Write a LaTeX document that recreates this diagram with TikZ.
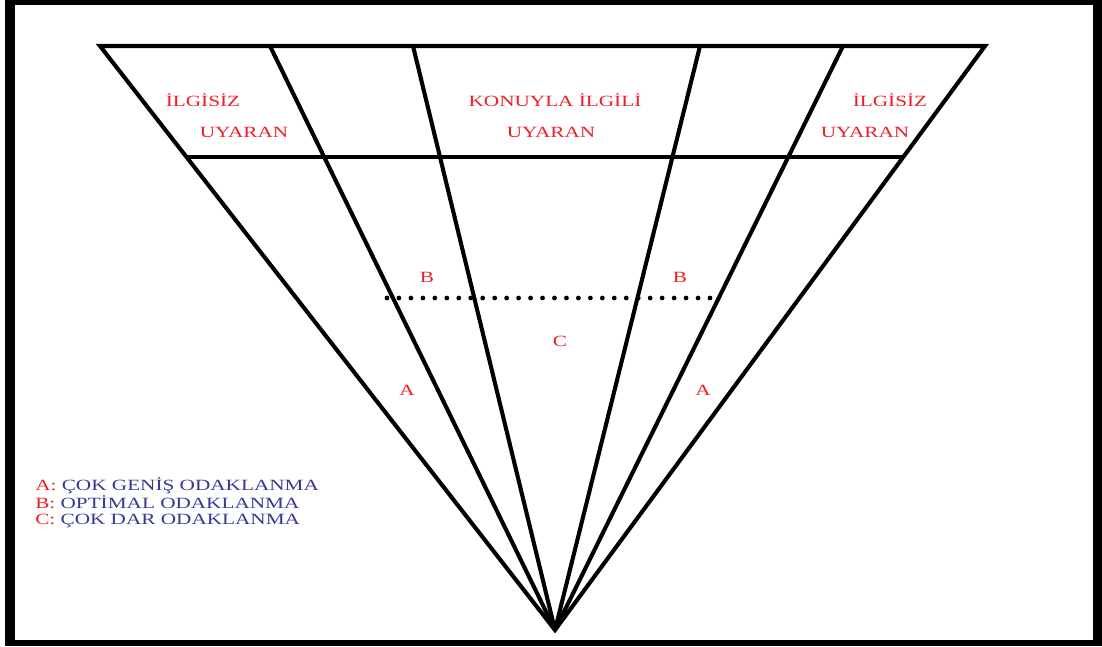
\documentclass[tikz,border=0pt]{standalone}
\usepackage{fontspec}
\newfontfamily\lblfont{Liberation Serif}[FakeStretch=1.36]
\definecolor{lblred}{RGB}{240,30,40}
\definecolor{lblblue}{RGB}{55,55,150}

\begin{document}
\begin{tikzpicture}[x=0.025cm, y=-0.025cm,
    font=\lblfont\fontsize{11.1}{11.4}\selectfont,
    rim/.style={line width=2.9pt},
    lbl/.style={text=lblred, inner sep=0pt},
    key/.style={text=lblblue, inner sep=0pt, anchor=west, align=left}]
  \useasboundingbox (0,0) rectangle (1102,646);
  \fill[black] (5,0) rectangle (1102,646);
  \fill[white] (15,5) rectangle (1093,640);
  \coordinate (apex) at (555,630);
  \foreach \n/\x in {1/100, 2/270, 3/413, 4/700, 5/843, 6/985}
    \coordinate (t\n) at (\x,46);
  \coordinate (h1) at (187,157);
  \coordinate (h2) at (903,157);
  \coordinate (d1) at (387,298);
  \coordinate (d2) at (716,298);
  \draw[rim] (t1) -- (t6) -- (apex) -- cycle;
  \foreach \n in {2,...,5}
    \draw[rim] (apex) -- (t\n);
  \draw[line width=2.6pt] (h1) -- (h2);
  \draw[line width=3.4pt, line cap=round, dash pattern=on 0pt off 0.299cm] (d1) -- (d2);
  \foreach \p/\t in {{203,100}/İLGİSİZ, {244,132}/UYARAN, {555,100}/KONUYLA İLGİLİ,
      {551,132}/UYARAN, {890,100}/İLGİSİZ, {865,132}/UYARAN,
      {427,277}/B, {680,277}/B, {560,341}/C, {407,390}/A, {703,390}/A}
    \node[lbl] at (\p) {\t};
  \node[key] (legend) at (35,503) {\textcolor{lblred}{A:} ÇOK GENİŞ ODAKLANMA\\
    \textcolor{lblred}{B:} OPTİMAL ODAKLANMA\\
    \textcolor{lblred}{C:} ÇOK DAR ODAKLANMA};
\end{tikzpicture}
\end{document}
